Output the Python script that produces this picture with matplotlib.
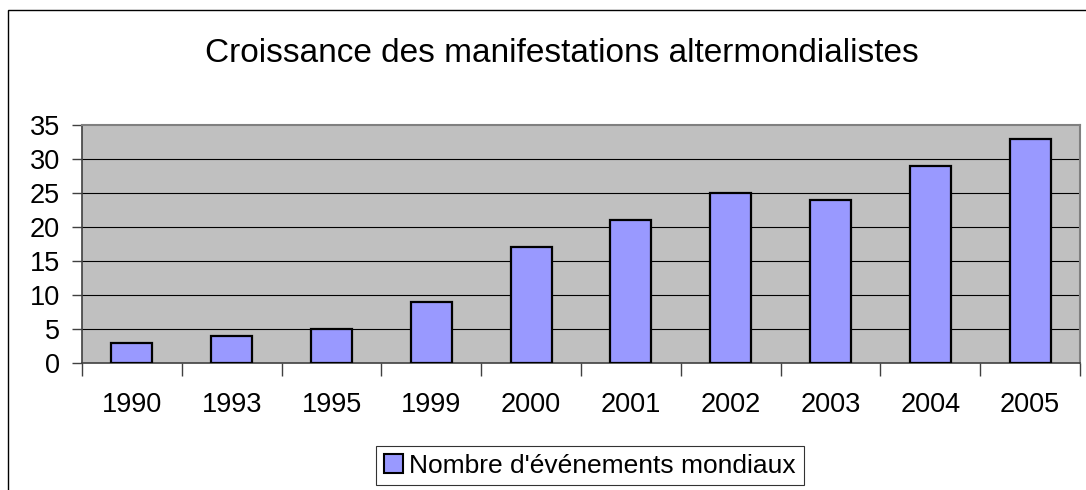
import matplotlib
matplotlib.use("Agg")
import matplotlib.pyplot as plt
from matplotlib.patches import Rectangle, Patch
import numpy as np

years = ["1990", "1993", "1995", "1999", "2000", "2001", "2002", "2003", "2004", "2005"]
events = [3, 4, 5, 9, 17, 21, 25, 24, 29, 33]
title = "Croissance des manifestations altermondialistes"
legend_label = "Nombre d'événements mondiaux"
yticks = [0, 5, 10, 15, 20, 25, 30, 35]

plt.rcParams['font.family'] = ['Liberation Sans', 'DejaVu Sans']

W, H = 1086, 490
fig = plt.figure(figsize=(W / 100, H / 100), dpi=100)
fig.patch.set_facecolor('white')

# outer chart border
fig.add_artist(Rectangle((8 / W, -0.1), 1.2, (H - 10) / H + 0.1, transform=fig.transFigure,
                         fill=False, edgecolor='#000000', linewidth=1.0))

left, right, top, bottom = 82, 1080, 125, 363
ax = fig.add_axes([left / W, 1 - bottom / H, (right - left) / W, (bottom - top) / H])
ax.set_facecolor('#C0C0C0')

x = np.arange(len(years))
ax.bar(x, events, width=0.41, color='#9999FF', edgecolor='black', linewidth=1.6, zorder=3)

ax.set_xlim(-0.5, len(years) - 0.5)
ax.set_ylim(0, 35)
ax.set_yticks(yticks)
ax.set_yticklabels([str(v) for v in yticks], fontsize=19.5)
for v in yticks[1:-1]:
    ax.axhline(v, color='black', linewidth=0.8, zorder=1)

ax.set_xticks(x)
ax.set_xticklabels(years, fontsize=19.5)
ax.tick_params(axis='x', which='major', length=0, pad=21)
ax.set_xticks(np.arange(-0.5, len(years) + 0.5, 1.0), minor=True)
ax.tick_params(axis='x', which='minor', length=9, width=1, color='#404040', direction='out')
ax.tick_params(axis='y', length=7, width=1, color='#404040', direction='out', pad=9)

for s in ['top', 'right']:
    ax.spines[s].set_color('#808080')
    ax.spines[s].set_linewidth(1.5)
for s in ['left', 'bottom']:
    ax.spines[s].set_color('#404040')
    ax.spines[s].set_linewidth(1.2)

fig.text(562 / W, 1 - 62 / H, title, ha='center', va='baseline', fontsize=24)

handle = Patch(facecolor='#9999FF', edgecolor='black', linewidth=1.5)
leg = fig.legend([handle], [legend_label], loc='center', bbox_to_anchor=(590 / W, 1 - 465.5 / H),
                 fontsize=19, frameon=True, fancybox=False, handlelength=0.7, handleheight=0.7,
                 handletextpad=0.25, borderpad=0.3, borderaxespad=0)
leg.get_frame().set_edgecolor('#000000')
leg.get_frame().set_linewidth(0.8)

fig.savefig('out.png', dpi=100)
